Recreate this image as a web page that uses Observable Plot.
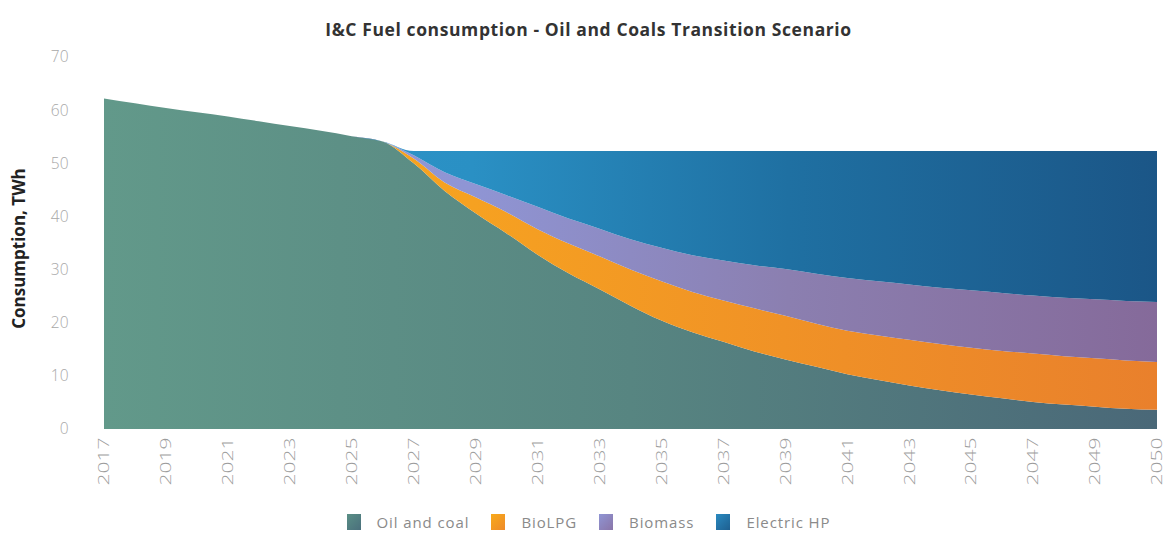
<!DOCTYPE html>
<html>
<head>
<meta charset="utf-8">
<script src="https://cdn.jsdelivr.net/npm/d3@7"></script>
<script src="https://cdn.jsdelivr.net/npm/@observablehq/plot@0.6"></script>
<style>
  html, body { margin: 0; padding: 0; background: #fff; }
  #wrap { position: relative; width: 1165px; height: 547px; overflow: hidden; font-family: "Open Sans", sans-serif; }
  #title { position: absolute; top: 17px; left: 6px; width: 1165px; text-align: center; font-weight: bold; font-size: 17.5px; letter-spacing: 0.6px; color: #333; }
  #chart { position: absolute; top: 45px; left: 0; }
  #legend { position: absolute; top: 512px; left: 0; width: 1165px; display: flex; justify-content: center; align-items: center; font-size: 15px; letter-spacing: 0.9px; color: #8a8a8a; padding-left: 12px; box-sizing: border-box; }
  .item { display: flex; align-items: center; margin: 0 11px; }
  .sw { width: 14px; height: 16px; margin-right: 16px; }
</style>
</head>
<body>
<div id="wrap">
  <div id="title">I&amp;C Fuel consumption - Oil and Coals Transition Scenario</div>
  <div id="chart"></div>
  <div id="legend"></div>
</div>
<script>
// ---- data ----
const seriesNames = ["Oil and coal", "BioLPG", "Biomass", "Electric HP"];
// 35 positions on the category axis; labels shown at every second one
const tickLabels = ["2017","2019","2021","2023","2025","2027","2029","2031","2033","2035","2037","2039","2041","2043","2045","2047","2049","2050"];
const oilAndCoal = [62.2,61.3,60.4,59.6,58.8,57.9,57.0,56.1,55.1,54.1,50.0,44.8,40.6,36.8,32.8,29.3,26.3,23.2,20.4,18.2,16.4,14.6,13.1,11.7,10.3,9.2,8.2,7.3,6.5,5.8,5.1,4.6,4.2,3.8,3.6];
const bioLPG = [0,0,0,0,0,0,0,0,0,0,0.9,1.6,3.0,4.0,4.8,5.6,6.2,6.8,7.4,7.6,7.8,8.1,8.2,8.1,8.2,8.4,8.6,8.7,8.8,8.9,9.1,9.1,9.1,9.1,9.0];
const biomass = [0,0,0,0,0,0,0,0,0,0,0.6,1.9,2.5,3.2,4.2,4.7,5.2,5.7,6.3,6.9,7.5,8.1,8.8,9.4,9.9,10.2,10.4,10.6,10.8,10.9,10.9,11.0,11.1,11.2,11.3];
const electricHP = [0,0,0,0,0,0,0,0,0,0,0.8,4.0,6.2,8.3,10.5,12.7,14.6,16.6,18.2,19.6,20.6,21.5,22.2,23.1,23.9,24.5,25.1,25.7,26.2,26.7,27.2,27.6,27.9,28.2,28.4];
const yTicks = [0,10,20,30,40,50,60,70];

// gradient colour stops (offset, colour) per series
const gradients = {
  "Oil and coal": [[0, "#62998a"], [0.5, "#578581"], [1, "#4a6878"]],
  "BioLPG":       [[0, "#f8aa1a"], [0.35, "#f6a121"], [1, "#e9802c"]],
  "Biomass":      [[0, "#9098d8"], [0.35, "#8f95d4"], [0.65, "#8b7fb0"], [1, "#856a9a"]],
  "Electric HP":  [[0, "#2e96ca"], [0.35, "#2a90c4"], [0.65, "#1f70a2"], [1, "#1b5687"]]
};
const gradIds = ["g-oil", "g-lpg", "g-bio", "g-hp"];

// ---- table ----
const seriesValues = [oilAndCoal, bioLPG, biomass, electricHP];
const rows = [];
seriesNames.forEach((s, k) => seriesValues[k].forEach((v, i) => rows.push({i, series: s, value: v})));
const tickPos = tickLabels.map((_, j) => j * 2);

function defsMark(index, scales, values, dims) {
  const g = d3.create("svg:defs");
  seriesNames.forEach((s, k) => {
    const lg = g.append("linearGradient")
      .attr("id", gradIds[k])
      .attr("gradientUnits", "userSpaceOnUse")
      .attr("x1", dims.marginLeft).attr("x2", dims.width - dims.marginRight)
      .attr("y1", 0).attr("y2", 0);
    gradients[s].forEach(([o, c]) => lg.append("stop").attr("offset", o).attr("stop-color", c));
  });
  return g.node();
}

const chart = Plot.plot({
  width: 1165,
  height: 460,
  marginLeft: 104,
  marginRight: 8,
  marginTop: 12,
  marginBottom: 76,
  style: { fontFamily: "Open Sans, sans-serif", background: "transparent" },
  x: { type: "linear", domain: [0, 34], axis: null },
  y: { domain: [0, 70], axis: null },
  color: { type: "ordinal", domain: seriesNames, range: gradIds.map(id => `url(#${id})`) },
  marks: [
    defsMark,
    Plot.areaY(rows, Plot.stackY({ x: "i", y: "value", z: "series", fill: "series", order: seriesNames, curve: "monotone-x" })),
    Plot.axisY(yTicks, { tickSize: 0, tickPadding: 36, fontSize: 15.5, fill: "#a8a8a8", label: null, fontWeight: 300 }),
    Plot.axisX(tickPos, { tickSize: 0, tickPadding: 8, tickRotate: -90, fontSize: 15, fill: "#9c9c9c", label: null, fontWeight: 300, tickFormat: (d) => tickLabels[d / 2] }),
    Plot.text(["Consumption, TWh"], { frameAnchor: "left", dx: -85, dy: 5, rotate: -90, textAnchor: "middle", fontWeight: "bold", fontSize: 17, fill: "#222", ariaLabel: "ytitle" })
  ]
});
document.getElementById("chart").appendChild(chart);

// the reference's vertical-running texts are drawn taller: stretch them along their length
function stretch(sel, k) {
  d3.select(chart).selectAll(sel).each(function () {
    const t = this.getAttribute("transform");
    if (t && t.includes("rotate")) this.setAttribute("transform", t + ` scale(${k},1)`);
  });
}
stretch('g[aria-label="x-axis tick label"] text', 1.4);
stretch('g[aria-label="ytitle"] text', 1.45);

// legend
const legendCols = {
  "Oil and coal": "linear-gradient(135deg, #5a8f86, #4a6f7c)",
  "BioLPG": "linear-gradient(135deg, #f8aa1a, #ee8a2a)",
  "Biomass": "linear-gradient(135deg, #8f95d4, #8a75a8)",
  "Electric HP": "linear-gradient(135deg, #2a8ac0, #1e5f90)"
};
const lg = document.getElementById("legend");
seriesNames.forEach(s => {
  const it = document.createElement("div"); it.className = "item";
  const sw = document.createElement("div"); sw.className = "sw"; sw.style.background = legendCols[s];
  const t = document.createElement("span"); t.textContent = s;
  it.appendChild(sw); it.appendChild(t); lg.appendChild(it);
});
</script>
</body>
</html>
